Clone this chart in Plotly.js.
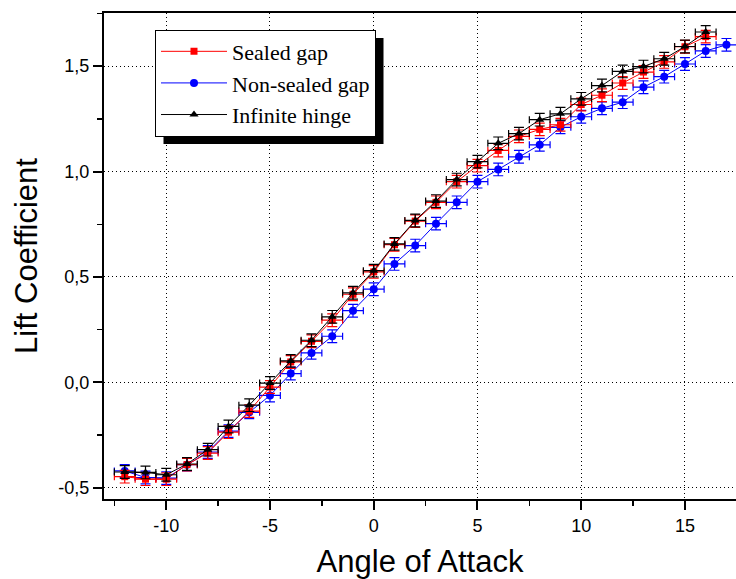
<!DOCTYPE html>
<html>
<head>
<meta charset="utf-8">
<script src="https://cdn.plot.ly/plotly-3.0.1.min.js"></script>
<style>html,body{margin:0;padding:0;background:#fff;}#chart{width:736px;height:579px;}</style>
</head>
<body>
<div id="chart"></div>
<script>
// Angle of attack (degrees)
const angleSealed = [-12,-11,-10,-9,-8,-7,-6,-5,-4,-3,-2,-1,0,1,2,3,4,5,6,7,8,9,10,11,12,13,14,15,16];
const angleNonSealed = [-12,-11,-10,-9,-8,-7,-6,-5,-4,-3,-2,-1,0,1,2,3,4,5,6,7,8,9,10,11,12,13,14,15,16,17];
const angleInfinite = [-12,-11,-10,-9,-8,-7,-6,-5,-4,-3,-2,-1,0,1,2,3,4,5,6,7,8,9,10,11,12,13,14,15,16];

// Lift coefficient
const liftSealed = [-0.447,-0.459,-0.459,-0.390,-0.335,-0.236,-0.136,-0.022,0.097,0.195,0.295,0.418,0.524,0.653,0.765,0.854,0.952,1.028,1.100,1.167,1.200,1.222,1.318,1.362,1.420,1.472,1.520,1.592,1.640];
const liftNonSealed = [-0.420,-0.451,-0.454,-0.390,-0.330,-0.231,-0.142,-0.062,0.042,0.140,0.219,0.340,0.442,0.562,0.649,0.753,0.854,0.952,1.010,1.070,1.127,1.210,1.260,1.300,1.329,1.400,1.450,1.510,1.572,1.601];
const liftInfinite = [-0.425,-0.427,-0.438,-0.387,-0.319,-0.209,-0.108,-0.003,0.102,0.200,0.311,0.425,0.530,0.657,0.768,0.860,0.962,1.047,1.134,1.180,1.246,1.274,1.345,1.408,1.475,1.498,1.535,1.593,1.662];

// Error magnitudes
const angleError = 0.5;
const liftError = 0.03;

const seriesNames = ['Sealed gap','Non-sealed gap','Infinite hinge'];

const xTickVals = [-10,-5,0,5,10,15];
const xTickText = ['-10','-5','0','5','10','15'];
const yTickVals = [-0.5,0,0.5,1.0,1.5];
const yTickText = ['-0,5','0,0','0,5','1,0','1,5'];

function mk(x, y, name, color, symbol, size, rank) {
  return {
    type: 'scatter', mode: 'lines+markers', x: x, y: y, name: name,
    legendrank: rank,
    line: {color: color, width: 1},
    marker: {color: color, symbol: symbol, size: size},
    error_x: {type: 'constant', value: angleError, color: color, thickness: 1.2, width: 3.5},
    error_y: {type: 'constant', value: liftError, color: color, thickness: 1.2, width: 5}
  };
}

const traces = [
  mk(angleNonSealed, liftNonSealed, seriesNames[1], '#0000ff', 'circle', 8, 2),
  mk(angleSealed, liftSealed, seriesNames[0], '#ff0000', 'square', 7, 1),
  mk(angleInfinite, liftInfinite, seriesNames[2], '#000000', 'triangle-up', 8, 3)
];

const axisFont = {family: 'Liberation Sans, Arial, sans-serif', size: 18, color: '#000'};
const titleFont = {family: 'Liberation Sans, Arial, sans-serif', size: 31, color: '#000'};
const layout = {
  width: 736, height: 579,
  margin: {l: 104, r: 0, t: 13, b: 80, pad: 0},
  paper_bgcolor: '#fff', plot_bgcolor: '#fff',
  showlegend: true,
  xaxis: {
    range: [-13, 17.46], showline: true, linewidth: 2, linecolor: '#000', mirror: true,
    tickmode: 'array', tickvals: xTickVals, ticktext: xTickText,
    ticks: 'outside', ticklen: 9, tickwidth: 2, tickcolor: '#000',
    minor: {tick0: 0, dtick: 2.5, ticks: 'outside', ticklen: 5, tickwidth: 1.5, tickcolor: '#000', showgrid: false},
    showgrid: true, gridcolor: '#000', gridwidth: 1, griddash: '1px,3px',
    zeroline: false, tickfont: axisFont,
    title: {text: 'Angle of Attack', font: titleFont, standoff: 16}
  },
  yaxis: {
    range: [-0.553, 1.752], showline: true, linewidth: 2, linecolor: '#000', mirror: false,
    tickmode: 'array', tickvals: yTickVals, ticktext: yTickText,
    ticks: 'outside', ticklen: 9, tickwidth: 2, tickcolor: '#000',
    minor: {tick0: 0, dtick: 0.25, ticks: 'outside', ticklen: 5, tickwidth: 1.5, tickcolor: '#000', showgrid: false},
    showgrid: true, gridcolor: '#000', gridwidth: 1, griddash: '1px,3px',
    zeroline: false, tickfont: axisFont,
    title: {text: 'Lift Coefficient', font: titleFont, standoff: 12}
  },
  legend: {
    x: (155 - 104) / 632, y: (498.5 - 29.5) / 485.5, xanchor: 'left', yanchor: 'top',
    bgcolor: '#fff', bordercolor: '#000', borderwidth: 1,
    font: {family: 'Liberation Serif, Times New Roman, serif', size: 22, color: '#000'},
    tracegroupgap: 0, itemwidth: 66
  }
};

Plotly.newPlot('chart', traces, layout, {displayModeBar: false, staticPlot: true}).then(function (gd) {
  const bg = gd.querySelector('.legend .bg');
  if (!bg) return;
  const bb = bg.getBoundingClientRect();
  const cb = gd.getBoundingClientRect();
  const sz = gd._fullLayout._size;
  const off = 8;
  const toX = px => (px - cb.left - sz.l) / sz.w;
  const toY = py => 1 - (py - cb.top - sz.t) / sz.h;
  return Plotly.relayout(gd, {shapes: [{
    type: 'rect', xref: 'paper', yref: 'paper', layer: 'above',
    x0: toX(bb.left + off), x1: toX(bb.right + off),
    y0: toY(bb.bottom + off), y1: toY(bb.top + off),
    fillcolor: '#000', line: {width: 0}
  }]});
});
</script>
</body>
</html>
